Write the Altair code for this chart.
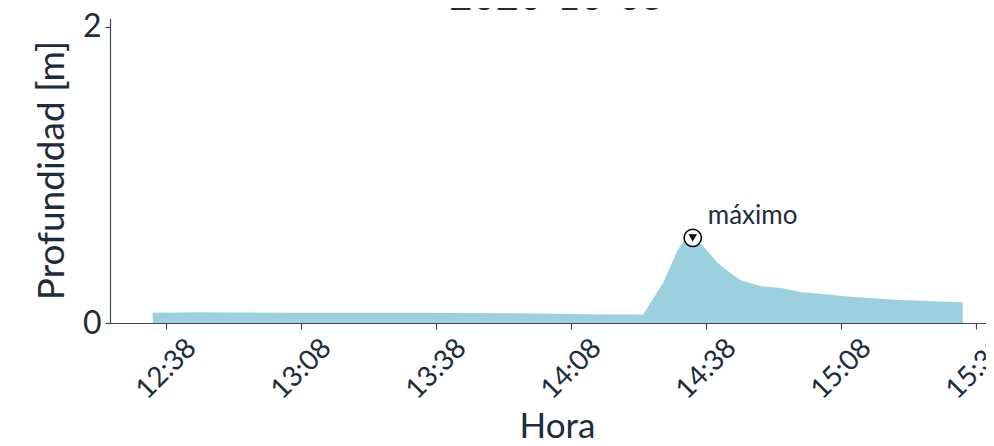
import altair as alt
import pandas as pd

title_text = "2020-10-05"
times = ["12:35:00", "12:45:00", "12:55:00", "13:05:00", "13:15:00", "13:25:00",
         "13:35:00", "13:45:00", "13:55:00", "14:05:00", "14:15:00", "14:20:00",
         "14:24:00", "14:26:12", "14:28:24", "14:30:00", "14:31:36", "14:32:54",
         "14:35:00", "14:37:18", "14:40:24", "14:43:18", "14:45:36", "14:50:00",
         "14:55:00", "14:58:54", "15:02:42", "15:10:00", "15:21:06", "15:35:00"]
depth = [0.070, 0.072, 0.071, 0.070, 0.070, 0.069,
         0.069, 0.068, 0.066, 0.063, 0.058, 0.057,
         0.058, 0.165, 0.27, 0.38, 0.49, 0.55,
         0.575, 0.52, 0.41, 0.34, 0.29, 0.25,
         0.234, 0.21, 0.20, 0.178, 0.155, 0.14]
tick_labels = ["12:38", "13:08", "13:38", "14:08", "14:38", "15:08", "15:38"]
y_ticks = [0, 1, 2]
annot = "máximo"


def to_min(s):
    p = [float(v) for v in s.split(":")]
    return p[0] * 60 + p[1] + (p[2] / 60 if len(p) > 2 else 0)


df = pd.DataFrame({"t": [to_min(s) for s in times], "d": depth})
imax = int(df["d"].idxmax())
peak = pd.DataFrame({"t": [df["t"][imax]], "d": [df["d"][imax]], "label": [annot]})
tick_vals = [to_min(s) for s in tick_labels]
title_df = pd.DataFrame({"title": [title_text]})

TXT = "#1e2d3b"
AX = "#3a4956"
FONT = "Lato"

W = 876
H = 305
xscale = alt.Scale(domain=[745.5, 745.5 + W / 4.5], nice=False, zero=False)
yscale = alt.Scale(domain=[0, 2.06], nice=False)

label_expr = ("floor(datum.value/60) + ':' + (datum.value % 60 < 10 ? '0' : '') + "
              "round(datum.value % 60)")

x_axis = alt.Axis(values=tick_vals, labelExpr=label_expr, labelAngle=-45,
                  labelAlign="center", labelBaseline="middle", labelPadding=40,
                  tickSize=6, labelFontSize=28, title="Hora", titleFontSize=35,
                  titleFontWeight="normal", titleY=114, titleX=447,
                  titleBaseline="alphabetic",
                  grid=False, labelOverlap=False, labelFlush=False, labelBound=False)
y_axis = alt.Axis(values=y_ticks, format="d", labelFontSize=32, tickSize=5,
                  labelPadding=4,
                  title="Profundidad [m]", titleFontSize=37, titleFontWeight="normal",
                  titleX=-47, titleY=152, titleAngle=-90, titleAlign="center",
                  titleBaseline="alphabetic", grid=False, labelBaseline="middle")

area = alt.Chart(df).mark_area(color="#9dd0de", opacity=1).encode(
    x=alt.X("t:Q", scale=xscale, axis=x_axis),
    y=alt.Y("d:Q", scale=yscale, axis=y_axis),
)

circle = alt.Chart(peak).mark_point(shape="circle", filled=True, fill="white",
                                    stroke="black", strokeWidth=1.6, size=300,
                                    opacity=1).encode(
    x=alt.X("t:Q", scale=xscale), y=alt.Y("d:Q", scale=yscale))
tri = alt.Chart(peak).mark_point(shape="triangle-down", filled=True, color="black",
                                 size=70, opacity=1).encode(
    x=alt.X("t:Q", scale=xscale), y=alt.Y("d:Q", scale=yscale))
txt = alt.Chart(peak).mark_text(align="left", baseline="alphabetic", dx=15, dy=-14,
                                fontSize=26, color=TXT, font=FONT).encode(
    x=alt.X("t:Q", scale=xscale), y=alt.Y("d:Q", scale=yscale), text="label:N")

# chart title (drawn as text so it can sit partly above the visible page)
ttl = alt.Chart(title_df).mark_text(align="center", baseline="alphabetic",
                                    fontSize=40, color=TXT, font=FONT).encode(
    x=alt.value(447), y=alt.value(-8), text="title:N")

chart = alt.layer(area, circle, tri, txt, ttl).properties(
    width=W, height=H,
    autosize=alt.AutoSizeParams(type="none"),
    padding={"left": 102, "top": 10, "right": 0, "bottom": 120},
).configure_view(stroke=None).configure_axis(
    labelFont=FONT, titleFont=FONT, labelColor=TXT, titleColor=TXT,
    domainColor=AX, tickColor=AX, domainWidth=1.2, tickWidth=1.2,
)

chart.save("out.html", embed_options={"renderer": "svg", "actions": False})
